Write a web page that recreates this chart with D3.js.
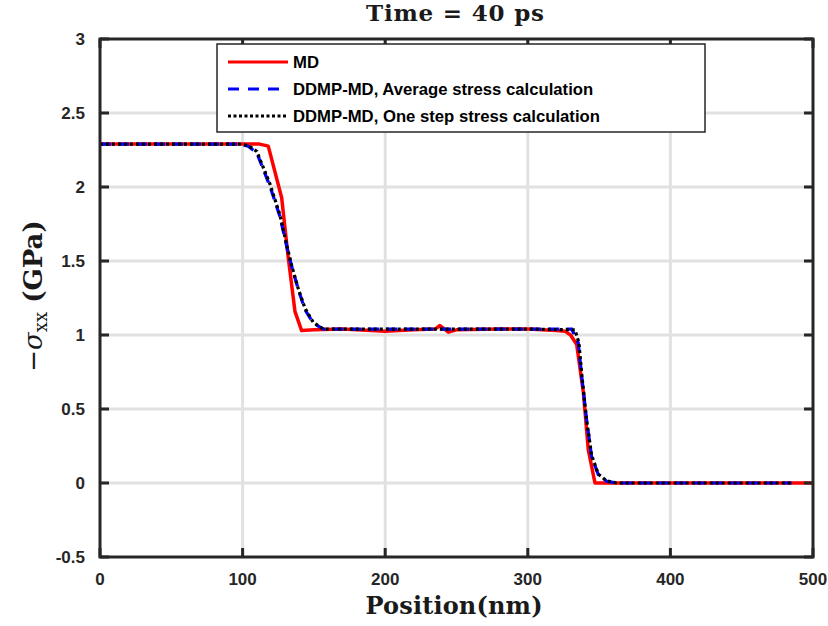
<!DOCTYPE html>
<html>
<head>
<meta charset="utf-8">
<script src="https://cdn.jsdelivr.net/npm/d3@7"></script>
<style>
  body { margin: 0; background: #fff; }
  .tick-label { font-family: "Liberation Sans", Arial, sans-serif; font-weight: bold; font-size: 17px; fill: #262626; }
  .serif { font-family: "DejaVu Serif", "Liberation Serif", serif; font-weight: bold; fill: #1a1a1a; }
</style>
</head>
<body>
<svg id="chart" width="828" height="626"></svg>
<script>
// MD (red, solid)
const mdX = [0, 50, 100, 112, 118, 127.4, 131.8, 136.7, 141.4, 150, 170, 200, 220, 235, 238.4, 244.3, 250, 280, 300, 320, 326, 330, 334.3, 339, 342.4, 347.1, 360, 400, 450, 500];
const mdY = [2.29, 2.29, 2.29, 2.29, 2.276, 1.927, 1.54, 1.16, 1.03, 1.035, 1.04, 1.025, 1.035, 1.04, 1.064, 1.019, 1.035, 1.04, 1.04, 1.03, 1.026, 1.0, 0.936, 0.61, 0.226, 0.0, 0.0, 0.0, 0.0, 0.0];

// DDMP-MD, average stress calculation (blue, dashed)
const avgX = [0, 50, 98, 104, 110, 119.2, 126.2, 130.9, 134.4, 139.1, 143.8, 149.6, 156.6, 200, 250, 300, 330.8, 335.4, 337.8, 341.2, 344.7, 349.4, 355.3, 362.3, 400, 450, 485];
const avgY = [2.29, 2.29, 2.29, 2.275, 2.23, 2.005, 1.80, 1.60, 1.465, 1.307, 1.17, 1.08, 1.04, 1.04, 1.04, 1.04, 1.04, 0.947, 0.72, 0.43, 0.18, 0.057, 0.012, 0.0, 0.0, 0.0, 0.0];

// DDMP-MD, one step stress calculation (black, dotted)
const oneX = [0, 50, 98, 104, 110, 119.2, 126.2, 130.9, 134.4, 139.1, 143.8, 149.6, 156.6, 200, 250, 300, 333, 335.8, 338, 341.2, 344.7, 349.4, 355.3, 362.3, 400, 450, 485];
const oneY = [2.29, 2.29, 2.29, 2.28, 2.24, 2.02, 1.81, 1.61, 1.47, 1.31, 1.18, 1.085, 1.04, 1.04, 1.04, 1.04, 1.035, 0.95, 0.72, 0.43, 0.19, 0.06, 0.014, 0.0, 0.0, 0.0, 0.0];

const xTicks = [0, 100, 200, 300, 400, 500];
const yTicks = [-0.5, 0, 0.5, 1, 1.5, 2, 2.5, 3];
const legendLabels = ["MD", "DDMP-MD, Average stress calculation", "DDMP-MD, One step stress calculation"];

const svg = d3.select("#chart");
const plotL = 100, plotR = 813, plotT = 39, plotB = 557;

const x = d3.scaleLinear().domain([0, 500]).range([plotL, plotR]);
const y = d3.scaleLinear().domain([-0.5, 3]).range([plotB, plotT]);

// grid
const grid = svg.append("g");
grid.selectAll("line.gx").data(xTicks.slice(1, -1)).enter().append("line")
    .attr("x1", d => x(d)).attr("x2", d => x(d))
    .attr("y1", plotT).attr("y2", plotB)
    .attr("stroke", "#e1e1e1").attr("stroke-width", 3);
grid.selectAll("line.gy").data(yTicks.slice(1, -1)).enter().append("line")
    .attr("y1", d => y(d)).attr("y2", d => y(d))
    .attr("x1", plotL).attr("x2", plotR)
    .attr("stroke", "#e1e1e1").attr("stroke-width", 3);

// lines
const line = (xs, ys) => d3.line().x((d, i) => x(xs[i])).y((d, i) => y(ys[i]))(xs);

svg.append("path").attr("d", line(mdX, mdY))
    .attr("fill", "none").attr("stroke", "#ff0000").attr("stroke-width", 3.5)
    .attr("stroke-linejoin", "round");
svg.append("path").attr("d", line(avgX, avgY))
    .attr("fill", "none").attr("stroke", "#0000ff").attr("stroke-width", 3.2)
    .attr("stroke-dasharray", "11,7");
svg.append("path").attr("d", line(oneX, oneY))
    .attr("fill", "none").attr("stroke", "#000").attr("stroke-width", 3.2)
    .attr("stroke-dasharray", "3,3");

// axes box with inner ticks on all sides
const ax = svg.append("g").attr("stroke", "#262626").attr("stroke-width", 3);
ax.append("rect").attr("x", plotL).attr("y", plotT)
    .attr("width", plotR - plotL).attr("height", plotB - plotT)
    .attr("fill", "none");
const tl = 9;
xTicks.forEach(t => {
    ax.append("line").attr("x1", x(t)).attr("x2", x(t)).attr("y1", plotB).attr("y2", plotB - tl);
    ax.append("line").attr("x1", x(t)).attr("x2", x(t)).attr("y1", plotT).attr("y2", plotT + tl);
});
yTicks.forEach(t => {
    ax.append("line").attr("y1", y(t)).attr("y2", y(t)).attr("x1", plotL).attr("x2", plotL + tl);
    ax.append("line").attr("y1", y(t)).attr("y2", y(t)).attr("x1", plotR).attr("x2", plotR - tl);
});

// tick labels
svg.selectAll("text.xl").data(xTicks).enter().append("text")
    .attr("class", "tick-label").attr("x", d => x(d)).attr("y", 585)
    .attr("text-anchor", "middle").text(d => d);
svg.selectAll("text.yl").data(yTicks).enter().append("text")
    .attr("class", "tick-label").attr("x", 85).attr("y", d => y(d) + 6)
    .attr("text-anchor", "end").text(d => d);

// title and axis labels
svg.append("text").attr("class", "serif").attr("x", 455).attr("y", 21)
    .attr("text-anchor", "middle").attr("font-size", 23)
    .attr("textLength", 178).attr("lengthAdjust", "spacing")
    .text("Time = 40 ps");
svg.append("text").attr("class", "serif").attr("x", 454).attr("y", 614)
    .attr("text-anchor", "middle").attr("font-size", 24)
    .attr("textLength", 177).attr("lengthAdjust", "spacing")
    .text("Position(nm)");

const yl = svg.append("text").attr("class", "serif").attr("font-size", 26)
    .attr("text-anchor", "middle")
    .attr("transform", "translate(42,296) rotate(-90)");
yl.append("tspan").attr("font-weight", "normal").attr("font-family", "DejaVu Sans").text("\u2212");
yl.append("tspan").attr("font-style", "italic").attr("font-weight", "normal").text("\u03c3");
yl.append("tspan").attr("font-weight", "normal").attr("font-size", 18).attr("dy", 5).text("xx");
yl.append("tspan").attr("dy", -5).text(" (GPa)");

// legend
const lg = svg.append("g");
lg.append("rect").attr("x", 217).attr("y", 44).attr("width", 488).attr("height", 88)
    .attr("fill", "#fff").attr("stroke", "#262626").attr("stroke-width", 1.5);
const styles = [
    {stroke: "#ff0000", dash: null},
    {stroke: "#0000ff", dash: "11,9"},
    {stroke: "#000", dash: "3,2.5"}
];
legendLabels.forEach((lab, i) => {
    const ly = 62 + i * 27;
    lg.append("line").attr("x1", 228).attr("x2", 288).attr("y1", ly).attr("y2", ly)
        .attr("stroke", styles[i].stroke).attr("stroke-width", 3.2)
        .attr("stroke-dasharray", styles[i].dash);
    lg.append("text").attr("x", 293).attr("y", ly + 6)
        .attr("font-family", "Liberation Sans, Arial, sans-serif").attr("font-weight", "bold")
        .attr("font-size", 16.7).attr("fill", "#000").text(lab);
});
</script>
</body>
</html>
